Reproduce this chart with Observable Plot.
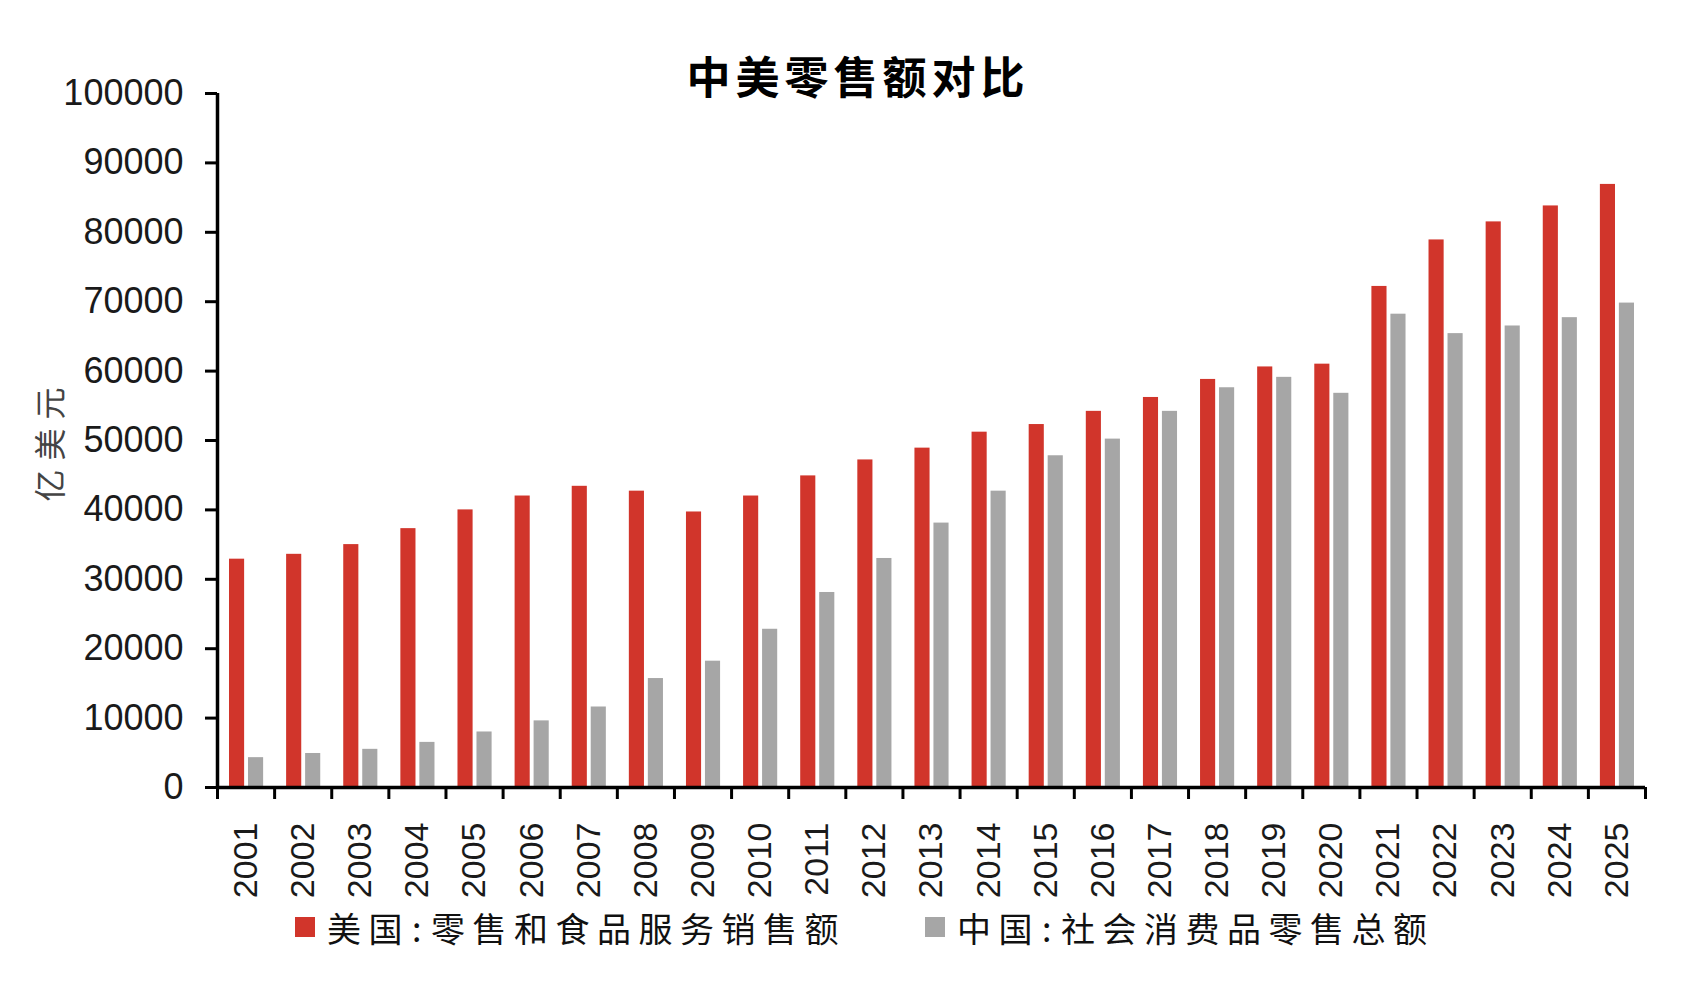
<!DOCTYPE html>
<html>
<head>
<meta charset="utf-8">
<script src="https://cdn.jsdelivr.net/npm/d3@7"></script>
<script src="https://cdn.jsdelivr.net/npm/@observablehq/plot@0.6"></script>
<style>
  html, body { margin: 0; padding: 0; background: #fff; }
  #wrap { position: relative; width: 1682px; height: 1000px; overflow: hidden; background: #fff; }
  #title { position: absolute; left: 858px; top: 50px; transform: translateX(-50%);
           font-family: "Noto Sans CJK SC", sans-serif; font-weight: 700; font-size: 44px;
           line-height: 50px; letter-spacing: 5px; color: #000; white-space: nowrap; z-index: 2; }
  #ylabel { position: absolute; left: 48px; top: 440px; transform: translate(-50%, -50%) rotate(-90deg);
            font-family: "Noto Sans CJK SC", sans-serif; font-size: 32px; letter-spacing: 9px;
            color: #444; white-space: nowrap; z-index: 2; }
  .leg { position: absolute; top: 903px; height: 48px; display: flex; align-items: center;
         font-family: "Noto Sans CJK SC", sans-serif; font-size: 34px; letter-spacing: 7.5px;
         color: #111; white-space: nowrap; }
  .sw { width: 20px; height: 20px; margin-right: 12px; flex: none; }
  .colon { margin: 0 2px; }
</style>
</head>
<body>
<div id="wrap">
  <div id="chart"></div>
  <div id="title"></div>
  <div id="ylabel"></div>
  <div id="legend"></div>
</div>
<script>
const titleText = "中美零售额对比";
const yLabelText = "亿美元";
const years = [2001,2002,2003,2004,2005,2006,2007,2008,2009,2010,2011,2012,2013,2014,2015,2016,2017,2018,2019,2020,2021,2022,2023,2024,2025];
const usRetail = [32900,33600,35000,37300,40000,42000,43400,42700,39700,42000,44900,47200,48900,51200,52300,54200,56200,58800,60600,61000,72200,78900,81500,83800,86900];
const cnRetail = [4300,4900,5500,6500,8000,9600,11600,15700,18200,22800,28100,33000,38100,42700,47800,50200,54200,57600,59100,56800,68200,65400,66500,67700,69800];
const seriesNames = ["美国:零售和食品服务销售额", "中国:社会消费品零售总额"];
const seriesColors = ["#D1352B", "#A6A6A6"];
const yTicks = [0,10000,20000,30000,40000,50000,60000,70000,80000,90000,100000];

const data = years.map((year, i) => ({year, us: usRetail[i], cn: cnRetail[i]}));
const xMin = years[0] - 0.5;
const xMax = years[years.length - 1] + 0.5;
const boundaries = years.map(y => y - 0.5).concat([xMax]);

const chart = Plot.plot({
  width: 1682,
  height: 900,
  marginTop: 93,
  marginBottom: 113,
  marginLeft: 217,
  marginRight: 37,
  style: {fontFamily: "'Liberation Sans', Arial, sans-serif", background: "#fff", color: "#1a1a1a", overflow: "visible"},
  x: {domain: [xMin, xMax]},
  y: {domain: [yTicks[0], yTicks[yTicks.length - 1]]},
  marks: [
    Plot.rectY(data, {x1: d => d.year - 0.5, x2: d => d.year + 0.5, y: "us", fill: seriesColors[0], insetLeft: 12, insetRight: 30}),
    Plot.rectY(data, {x1: d => d.year - 0.5, x2: d => d.year + 0.5, y: "cn", fill: seriesColors[1], insetLeft: 31, insetRight: 11}),
    Plot.axisY({ticks: yTicks, tickSize: 12, tickPadding: 22, fontSize: 36, strokeWidth: 3, stroke: "#000",
                tickFormat: d => String(d), label: null}),
    Plot.axisX({ticks: boundaries, tickSize: 12, tickFormat: () => "", strokeWidth: 3, stroke: "#000", label: null}),
    Plot.axisX({ticks: years, tickSize: 0, tickPadding: 35, tickRotate: -90, fontSize: 34,
                tickFormat: d => String(d), label: null}),
    Plot.ruleX([xMin], {y1: yTicks[0], y2: yTicks[yTicks.length - 1], stroke: "#000", strokeWidth: 3.5}),
    Plot.ruleY([0], {x1: xMin, x2: xMax, stroke: "#000", strokeWidth: 3.5})
  ]
});
document.getElementById("chart").appendChild(chart);

document.getElementById("title").textContent = titleText;
document.getElementById("ylabel").textContent = yLabelText;

const legend = document.getElementById("legend");
const legLeft = [295, 925];
seriesNames.forEach((name, i) => {
  const item = document.createElement("div");
  item.className = "leg";
  item.style.left = legLeft[i] + "px";
  const sw = document.createElement("span");
  sw.className = "sw";
  sw.style.background = seriesColors[i];
  item.appendChild(sw);
  const [a, b] = name.split(":");
  const t = document.createElement("span");
  t.appendChild(document.createTextNode(a));
  const c = document.createElement("span");
  c.className = "colon";
  c.textContent = ":";
  t.appendChild(c);
  t.appendChild(document.createTextNode(b));
  item.appendChild(t);
  legend.appendChild(item);
});
</script>
</body>
</html>
